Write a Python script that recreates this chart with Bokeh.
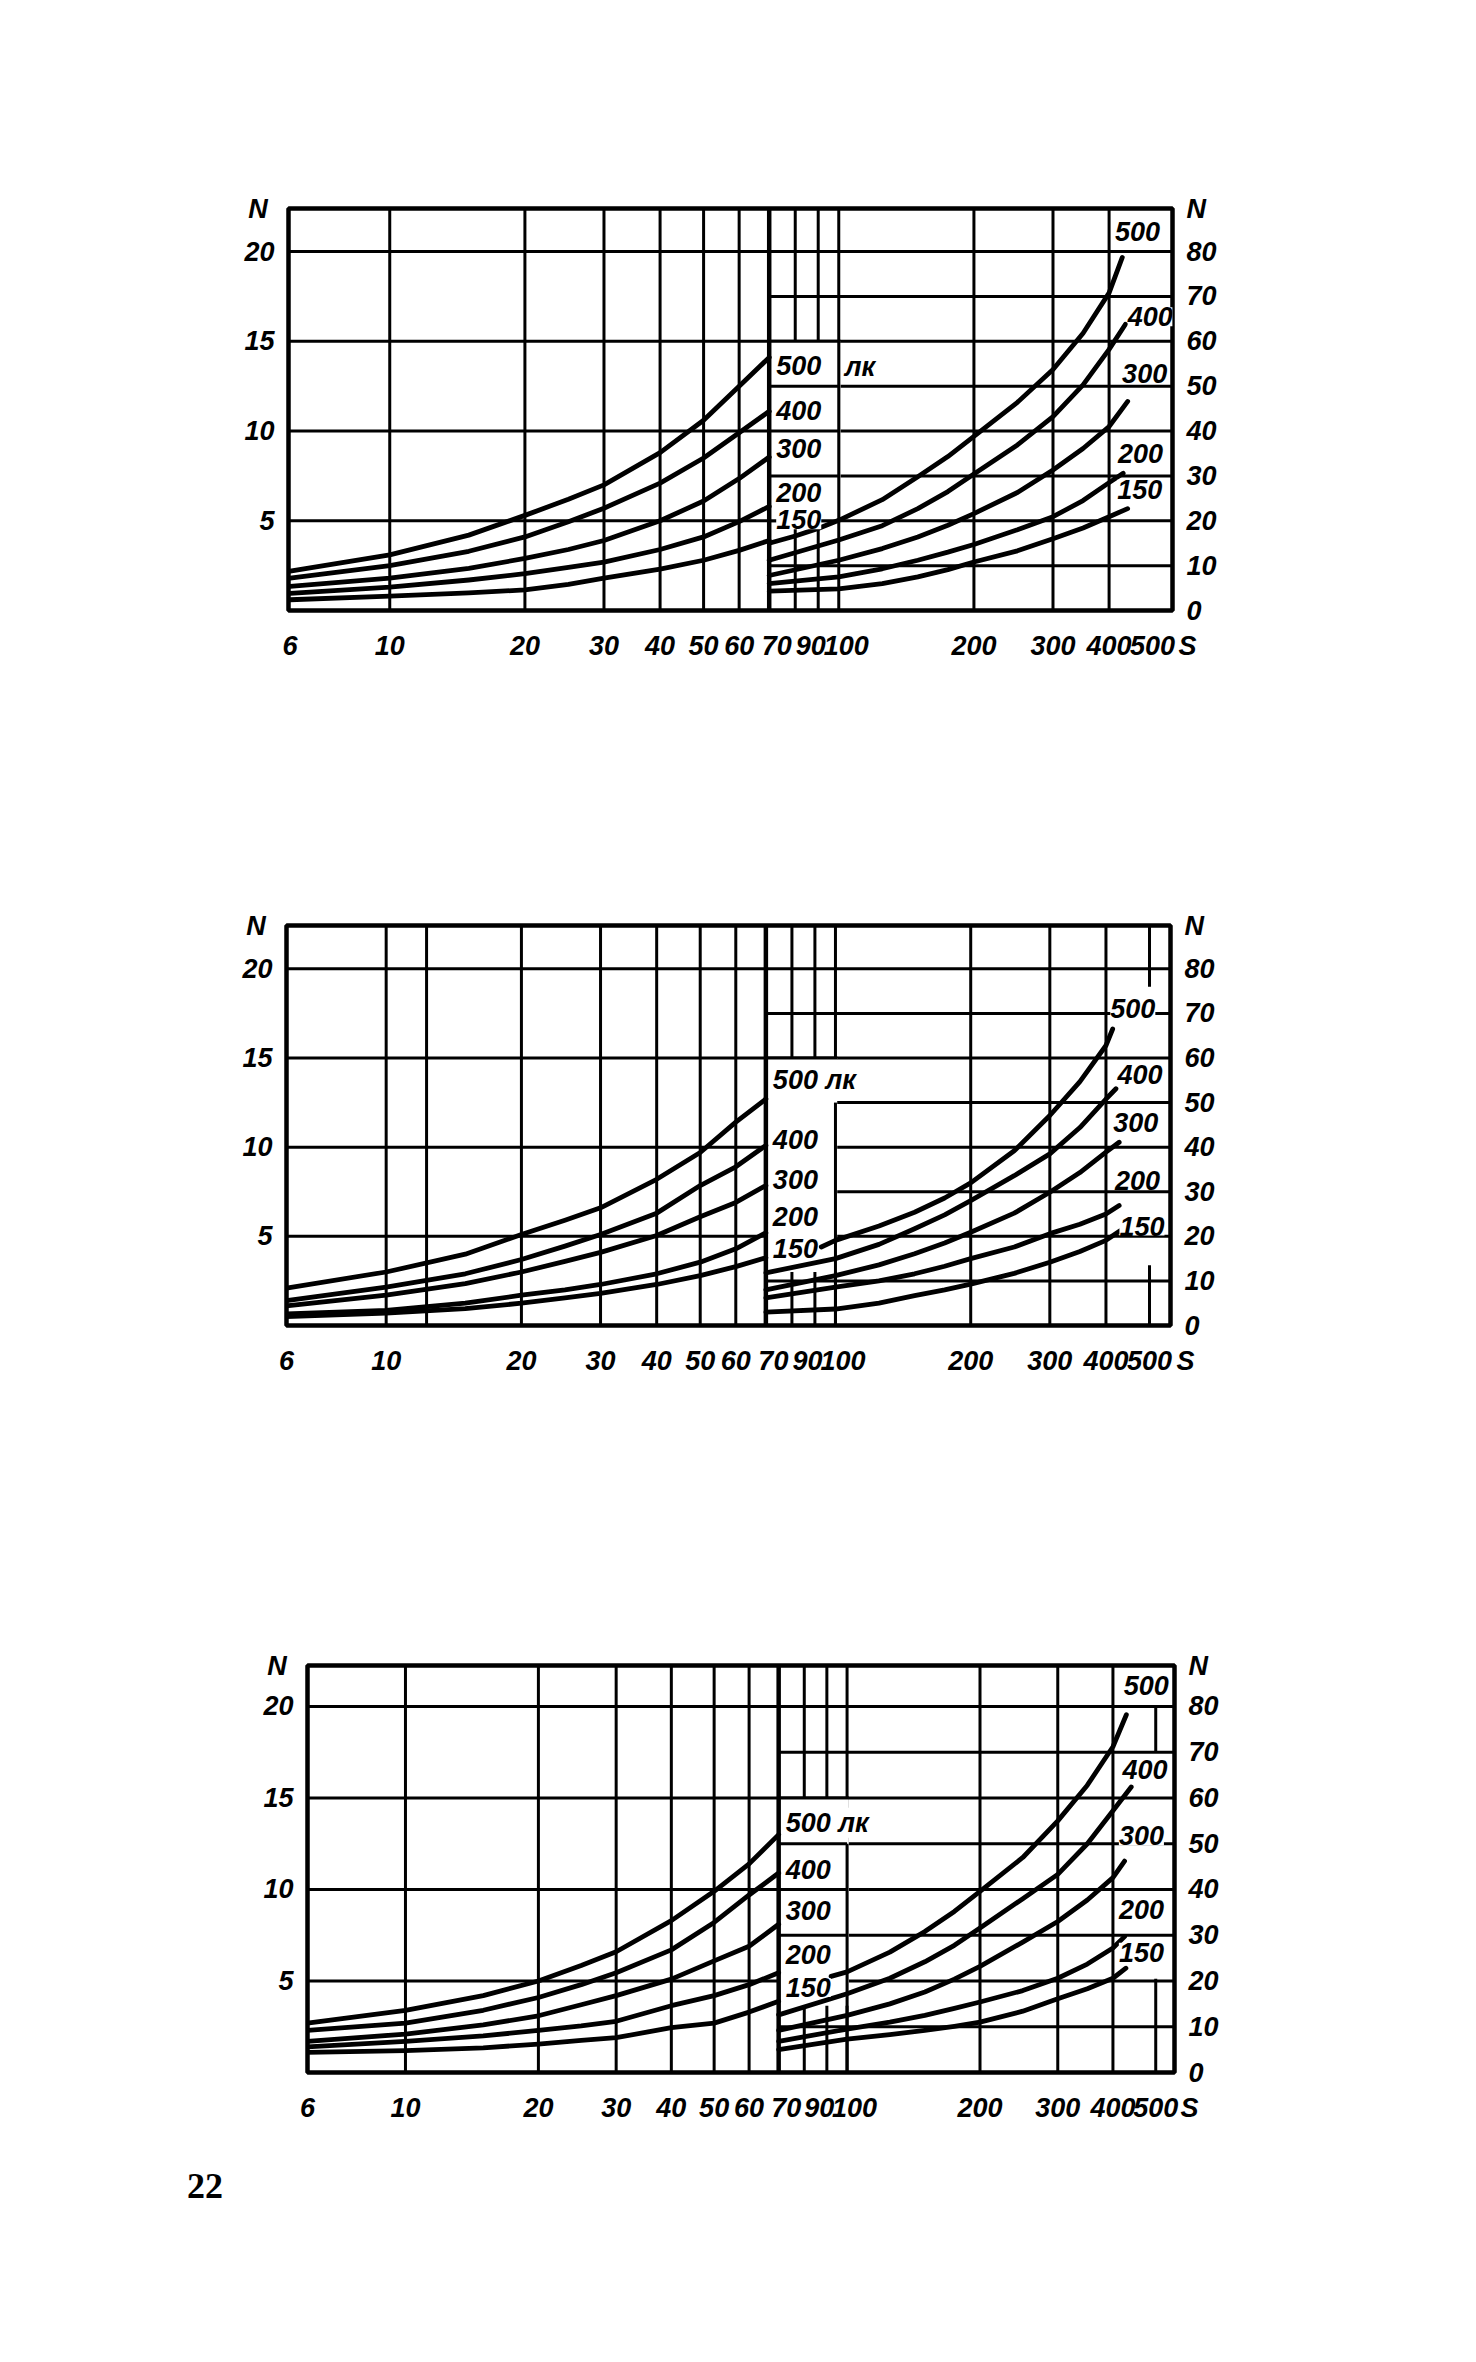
from bokeh.plotting import figure
from bokeh.models import Range1d, LinearAxis, FixedTicker, Label, Spacer, Div, BasicTickFormatter
from bokeh.layouts import column, row
from bokeh.embed import file_html
from bokeh.resources import INLINE

FONT = "Liberation Sans"
INK = "#000000"
FS = "\u2007"   # figure space, used to nudge crowded tick labels

# ---------------- data ----------------
LUX = [500, 400, 300, 200, 150]
S_TICKS = [6, 10, 20, 30, 40, 50, 60, 70, 90, 100, 200, 300, 400, 500]
S_LABELS = ["6", "10", "20", "30", "40", "50", "60", FS + "70", "90" + FS, FS + "100", "200", "300", "400", "500"]
N_LEFT_TICKS = [5, 10, 15, 20]
N_RIGHT_TICKS = [0, 10, 20, 30, 40, 50, 60, 70, 80]
GRID_S_LEFT = [10, 20, 30, 40, 50, 60]
GRID_S_RIGHT = [80, 90, 200, 300, 400]
GRID_N_RIGHT_ONLY = [10, 30, 50, 70]
S_SPLIT = 70
LEFT_S = [6, 10, 15, 20, 25, 30, 40, 50, 60, 70]
RIGHT_S_MID = [100, 125, 150, 175, 200, 250, 300, 350, 400]

# chart 1 -- left part (left N scale), right part (right N scale)
c1_left_n = {
    500: [2.2, 3.1, 4.2, 5.3, 6.2, 7.0, 8.8, 10.6, 12.5, 14.1],
    400: [1.8, 2.5, 3.3, 4.1, 4.95, 5.7, 7.1, 8.5, 9.9, 11.1],
    300: [1.35, 1.8, 2.35, 2.9, 3.4, 3.9, 5.0, 6.1, 7.35, 8.55],
    200: [0.95, 1.3, 1.7, 2.05, 2.4, 2.7, 3.4, 4.1, 4.95, 5.8],
    150: [0.6, 0.8, 0.98, 1.15, 1.45, 1.8, 2.3, 2.8, 3.35, 3.9],
}
c1_right_s = {
    500: [70, 80, 90] + RIGHT_S_MID + [428],
    400: [70] + RIGHT_S_MID + [435],
    300: [70] + RIGHT_S_MID + [440],
    200: [70] + RIGHT_S_MID + [430],
    150: [70] + RIGHT_S_MID + [440],
}
c1_right_n = {
    500: [15.0, 16.6, 18.3, 20.1, 24.7, 29.8, 34.3, 38.8, 46.4, 53.7, 61.8, 70.8, 78.7],
    400: [11.2, 15.7, 18.9, 22.7, 26.5, 30.4, 36.9, 43.2, 50.3, 58.2, 63.8],
    300: [7.8, 11.2, 13.8, 16.4, 19.0, 21.6, 26.3, 31.3, 36.1, 41.0, 46.6],
    200: [6.0, 7.5, 9.3, 11.2, 13.0, 14.7, 18.0, 20.9, 24.5, 28.5, 30.6],
    150: [4.3, 4.8, 6.0, 7.5, 9.1, 10.8, 13.3, 16.0, 18.4, 20.9, 22.7],
}

# chart 2
c2_left_n = {
    500: [2.1, 3.0, 4.0, 5.1, 5.9, 6.6, 8.2, 9.7, 11.4, 12.7],
    400: [1.4, 2.15, 2.9, 3.7, 4.45, 5.1, 6.3, 7.85, 8.9, 10.1],
    300: [1.1, 1.7, 2.35, 3.0, 3.6, 4.1, 5.05, 6.1, 6.9, 7.85],
    200: [0.65, 0.85, 1.25, 1.7, 2.0, 2.3, 2.9, 3.55, 4.3, 5.2],
    150: [0.5, 0.7, 0.95, 1.25, 1.55, 1.8, 2.3, 2.8, 3.3, 3.8],
}
c2_right_s = {
    500: [93] + RIGHT_S_MID + [414],
    400: [70] + RIGHT_S_MID + [421],
    300: [70] + RIGHT_S_MID + [428],
    200: [70] + RIGHT_S_MID + [428],
    150: [70] + RIGHT_S_MID + [431],
}
c2_right_n = {
    500: [17.6, 19.1, 22.3, 25.4, 28.6, 32.0, 39.2, 47.1, 54.7, 62.8, 66.5],
    400: [11.8, 15.0, 18.2, 21.7, 24.8, 28.0, 33.6, 38.5, 44.4, 50.8, 53.1],
    300: [8.0, 11.2, 13.6, 16.1, 18.5, 20.9, 25.2, 29.9, 34.3, 38.9, 41.1],
    200: [6.2, 8.6, 10.0, 11.6, 13.3, 15.0, 17.6, 20.6, 22.7, 25.0, 26.9],
    150: [3.0, 3.7, 5.0, 6.7, 8.0, 9.3, 11.7, 14.2, 16.6, 19.1, 21.3],
}

# chart 3
c3_left_n = {
    500: [2.7, 3.4, 4.2, 5.0, 5.85, 6.6, 8.3, 9.9, 11.4, 13.0],
    400: [2.3, 2.7, 3.4, 4.1, 4.8, 5.45, 6.7, 8.2, 9.7, 10.9],
    300: [1.7, 2.1, 2.6, 3.1, 3.7, 4.2, 5.1, 6.1, 6.9, 8.1],
    200: [1.4, 1.7, 2.0, 2.3, 2.55, 2.8, 3.65, 4.2, 4.8, 5.45],
    150: [1.1, 1.2, 1.35, 1.55, 1.75, 1.9, 2.45, 2.7, 3.3, 3.9],
}
c3_right_s = {
    500: [92] + RIGHT_S_MID + [429],
    400: [70] + RIGHT_S_MID + [440],
    300: [70] + RIGHT_S_MID + [425],
    200: [70] + RIGHT_S_MID + [425],
    150: [70] + RIGHT_S_MID + [428],
}
c3_right_n = {
    500: [21.0, 22.0, 26.3, 30.8, 35.2, 39.6, 47.0, 55.0, 62.8, 71.2, 78.2],
    400: [12.6, 17.2, 20.6, 24.2, 27.8, 31.6, 38.0, 43.3, 50.0, 57.2, 62.4],
    300: [9.2, 12.5, 15.0, 17.6, 20.4, 23.2, 28.5, 33.0, 37.7, 42.6, 46.2],
    200: [6.8, 9.5, 11.0, 12.5, 14.0, 15.4, 17.9, 20.6, 23.7, 27.2, 29.7],
    150: [5.0, 7.3, 8.3, 9.2, 10.1, 11.0, 13.4, 16.1, 18.3, 20.6, 22.8],
}

# ---------------- layout / styling per chart ----------------
ML, MR, MT, MB = 80, 80, 40, 80

charts = [
    dict(left=296, top=216, W=884, H=402, s_range=(5.95, 553.7), n_top=22.4,
         box_lo=20, edge100=(20, 60), through=[20, 30, 40, 50], extra_grid=[], grid500=[],
         left_n=c1_left_n, right_s=c1_right_s, right_n=c1_right_n,
         right_labels=[("500", 463, 84.4), ("400", 494, 65.5), ("300", 480, 52.8),
                       ("200", 470, 35.0), ("150", 468, 27.0)],
         box_labels=[("500", 54.5), ("400", 44.6), ("300", 36.0), ("200", 26.3), ("150", 20.2)],
         lk=(111.5, 54.2)),
    dict(left=294, top=933, W=884, H=400, s_range=(6.0, 556.8), n_top=22.43,
         box_lo=12, edge100=(0, 50), through=[], extra_grid=[12.3], grid500=[(0, 13.5), (76, 89.7)],
         left_n=c2_left_n, right_s=c2_right_s, right_n=c2_right_n,
         right_labels=[("500", 459, 71.0), ("400", 476, 56.4), ("300", 466, 45.5),
                       ("200", 470, 32.5), ("150", 481, 22.3)],
         box_labels=[("500 лк", 55.1), ("400", 41.7), ("300", 32.7), ("200", 24.5), ("150", 17.3)],
         lk=None),
    dict(left=315, top=1673, W=867, H=407, s_range=(6.0, 551.4), n_top=22.24,
         box_lo=14.6, edge100=(0, 50), through=[30, 40, 50], extra_grid=[], grid500=[(0, 20.5), (70, 80)],
         left_n=c3_left_n, right_s=c3_right_s, right_n=c3_right_n,
         right_labels=[("500", 476, 84.6), ("400", 473, 66.2), ("300", 464, 51.7),
                       ("200", 464, 35.6), ("150", 464, 26.3)],
         box_labels=[("500 лк", 54.6), ("400", 44.3), ("300", 35.3), ("200", 25.7), ("150", 18.6)],
         lk=None),
]

GRID_W = 3
CURVE_W = 4.8
BORDER_W = 4.5
TXT = "27px"


def style_axis(ax, standoff):
    ax.axis_line_color = None
    ax.major_tick_line_color = None
    ax.minor_tick_line_color = None
    ax.major_label_text_font = FONT
    ax.major_label_text_font_size = TXT
    ax.major_label_text_font_style = "bold italic"
    ax.major_label_text_color = INK
    ax.major_label_standoff = standoff


def text_label(**kw):
    base = dict(text_font=FONT, text_font_size=TXT, text_font_style="bold italic",
                text_color=INK, text_baseline="middle")
    base.update(kw)
    return Label(**base)


def make_chart(cfg):
    s0, s1 = cfg["s_range"]
    top = cfg["n_top"]
    rtop = 4 * top
    p = figure(frame_width=cfg["W"], frame_height=cfg["H"], x_axis_type="log",
               x_range=Range1d(s0, s1), y_range=Range1d(0, top),
               output_backend="svg", toolbar_location=None,
               min_border_left=ML, min_border_right=MR, min_border_top=MT, min_border_bottom=MB,
               background_fill_color="white", border_fill_color="white")
    p.extra_y_ranges = {"r": Range1d(0, rtop)}
    p.xgrid.visible = False
    p.ygrid.visible = False
    p.outline_line_color = INK
    p.outline_line_width = BORDER_W

    # S axis (the axis name "S" sits at the right end of the axis)
    xa = p.xaxis[0]
    xa.ticker = FixedTicker(ticks=S_TICKS + [s1])
    xa.formatter = BasicTickFormatter()
    over = {t: l for t, l in zip(S_TICKS, S_LABELS)}
    over[s1] = FS + FS + "S"
    xa.major_label_overrides = over
    style_axis(xa, 14)

    # left N axis (name "N" at the top end)
    ya = p.yaxis[0]
    ya.ticker = FixedTicker(ticks=N_LEFT_TICKS + [top])
    ya.major_label_overrides = {top: "N\u2005"}
    style_axis(ya, 8)

    # right N axis
    yr = LinearAxis(y_range_name="r", ticker=FixedTicker(ticks=N_RIGHT_TICKS + [rtop]))
    yr.major_label_overrides = {rtop: "N"}
    style_axis(yr, 8)
    p.add_layout(yr, "right")

    gl = dict(line_color=INK, line_width=GRID_W)

    # vertical grid lines
    vx = GRID_S_LEFT + cfg["extra_grid"] + GRID_S_RIGHT + [100]
    p.segment(x0=vx, x1=vx, y0=[0] * len(vx), y1=[top] * len(vx), **gl)
    for lo, hi in cfg["grid500"]:
        p.segment(x0=[500], x1=[500], y0=[lo], y1=[hi], y_range_name="r", **gl)

    # horizontal grid lines across both parts
    n = len(N_LEFT_TICKS)
    p.segment(x0=[s0] * n, x1=[s1] * n, y0=N_LEFT_TICKS, y1=N_LEFT_TICKS, **gl)
    # right-part only horizontal lines
    m = len(GRID_N_RIGHT_ONLY)
    p.segment(x0=[S_SPLIT] * m, x1=[s1] * m, y0=GRID_N_RIGHT_ONLY, y1=GRID_N_RIGHT_ONLY,
              y_range_name="r", **gl)

    # blank label box between 70 and 100
    p.quad(left=[S_SPLIT], right=[100.9], bottom=[cfg["box_lo"]], top=[60],
           y_range_name="r", fill_color="white", line_color=None)
    p.segment(x0=[S_SPLIT], x1=[101], y0=[60], y1=[60], y_range_name="r", **gl)
    lo, hi = cfg["edge100"]
    p.segment(x0=[100], x1=[100], y0=[lo], y1=[hi], y_range_name="r", **gl)
    for h in cfg["through"]:
        p.segment(x0=[S_SPLIT], x1=[100], y0=[h], y1=[h], y_range_name="r", **gl)

    # divider at 70
    p.segment(x0=[S_SPLIT], x1=[S_SPLIT], y0=[0], y1=[top], line_color=INK, line_width=BORDER_W)

    # curves
    for lux in LUX:
        p.line(LEFT_S, cfg["left_n"][lux], line_color=INK, line_width=CURVE_W,
               line_join="round", line_cap="round")
        p.line(cfg["right_s"][lux], cfg["right_n"][lux], y_range_name="r", line_color=INK,
               line_width=CURVE_W, line_join="round", line_cap="round")

    # curve labels
    for txt, xv, yv in cfg["right_labels"]:
        p.add_layout(text_label(x=xv, y=yv, y_range_name="r", text=txt, text_align="center",
                                background_fill_color="white"))
    for txt, yv in cfg["box_labels"]:
        p.add_layout(text_label(x=S_SPLIT, y=yv, y_range_name="r", text=txt, text_align="left",
                                x_offset=7, background_fill_color="white"))
    if cfg["lk"] is not None:
        p.add_layout(text_label(x=cfg["lk"][0], y=cfg["lk"][1], y_range_name="r", text="лк",
                                text_align="center", background_fill_color="white"))
    return p


figs = [make_chart(c) for c in charts]

items = []
cur_y = 8
for cfg, f in zip(charts, figs):
    canvas_top = cfg["top"] - MT
    items.append(Spacer(width=1, height=canvas_top - cur_y))
    items.append(row(Spacer(width=cfg["left"] - ML - 8, height=1), f))
    cur_y = canvas_top + MT + cfg["H"] + MB

page_no = Div(text="22", width=60, height=40,
              styles={"font-family": "Liberation Serif", "font-size": "36px",
                      "font-weight": "bold", "line-height": "36px", "color": "#000000"})
items.append(Spacer(width=1, height=2171 - cur_y))
items.append(row(Spacer(width=182, height=1), page_no))

layout = column(*items)

with open("out.html", "w") as fh:
    fh.write(file_html(layout, INLINE))
